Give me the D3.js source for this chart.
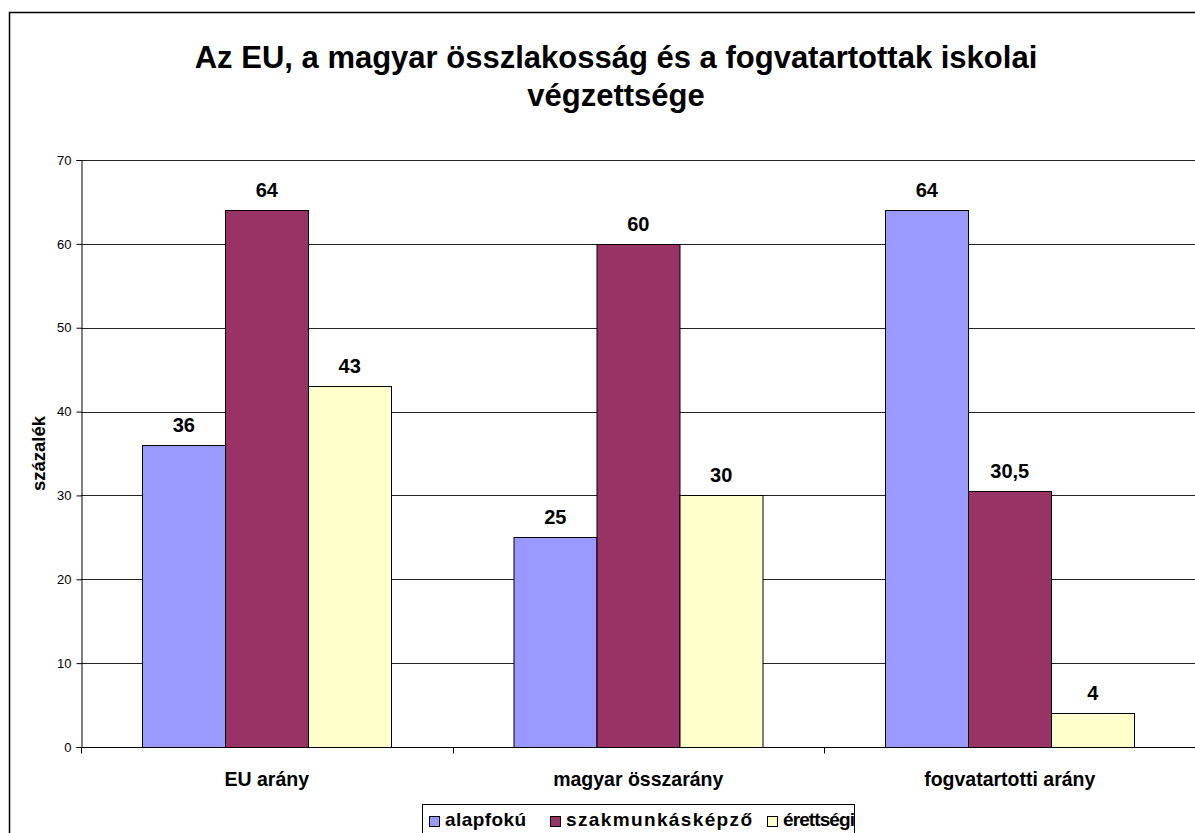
<!DOCTYPE html>
<html>
<head>
<meta charset="utf-8">
<script src="https://cdn.jsdelivr.net/npm/d3@7/dist/d3.min.js"></script>
<style>
  html, body { margin: 0; padding: 0; background: #fff; }
  svg { display: block; font-family: Arial, "Liberation Sans", sans-serif; }
</style>
</head>
<body>
<div id="chart"></div>
<script>
// chart data
const categories = ['EU arány', 'magyar összarány', 'fogvatartotti arány'];
const seriesNames = ['alapfokú', 'szakmunkásképző', 'érettségi'];
const alapfoku = [36, 25, 64];
const szakmunkaskepzo = [64, 60, 30.5];
const erettsegi = [43, 30, 4];
const yTicks = [0, 10, 20, 30, 40, 50, 60, 70];
const titleLines = ['Az EU, a magyar összlakosság és a fogvatartottak iskolai', 'végzettsége'];
const yLabel = 'százalék';

const COLORS = ['#9999FF', '#993366', '#FFFFCC'];

const width = 1195;
const height = 833;
const plot = { left: 81, right: 1195.5, top: 160, bottom: 747 };

const series = [alapfoku, szakmunkaskepzo, erettsegi];

// Hungarian decimal comma
const fmt = v => String(v).replace('.', ',');

const svg = d3.select('#chart').append('svg')
  .attr('width', width)
  .attr('height', height);

// outer frame (right/bottom edges fall outside the picture)
svg.append('path')
  .attr('d', `M9.5,${height + 5} V12.5 H${width + 5}`)
  .attr('fill', 'none')
  .attr('stroke', '#000')
  .attr('stroke-width', 1.5);

// title
const title = svg.append('text')
  .attr('text-anchor', 'middle')
  .attr('font-weight', 'bold')
  .attr('font-size', 31)
  .attr('fill', '#000');
titleLines.forEach((t, i) => {
  title.append('tspan').attr('x', 616).attr('y', 68 + i * 38).text(t);
});

const y = d3.scaleLinear().domain([0, 70]).range([plot.bottom, plot.top]);
const x0 = d3.scaleBand().domain(categories).range([plot.left, plot.right]).padding(0);
const x1 = d3.scaleBand().domain(seriesNames).range([0, x0.bandwidth()])
  .paddingInner(0).paddingOuter(0.738);

// gridlines
svg.append('g')
  .selectAll('line')
  .data(yTicks.filter(d => d > 0))
  .enter()
  .append('line')
  .attr('x1', plot.left)
  .attr('x2', width)
  .attr('y1', d => Math.round(y(d)) + 0.5)
  .attr('y2', d => Math.round(y(d)) + 0.5)
  .attr('stroke', '#222')
  .attr('stroke-width', 1);

// y axis
const yAxis = svg.append('g')
  .attr('transform', `translate(${plot.left + 0.5},0)`)
  .call(d3.axisLeft(y).tickValues(yTicks).tickSize(5).tickPadding(5).tickFormat(d3.format('d')));
yAxis.select('.domain').attr('stroke', '#000');
yAxis.selectAll('.tick line').attr('stroke', '#000');
yAxis.selectAll('text')
  .attr('font-size', 13)
  .attr('font-family', 'Arial, "Liberation Sans", sans-serif')
  .attr('fill', '#000');

// bars
const groups = svg.append('g')
  .selectAll('g')
  .data(categories)
  .enter()
  .append('g')
  .attr('transform', d => `translate(${x0(d)},0)`);

const cells = (c, ci) => seriesNames.map((s, si) => ({ s, si, v: series[si][ci] }));

groups.selectAll('rect')
  .data(cells)
  .enter()
  .append('rect')
  .attr('x', d => Math.round(x1(d.s)) + 0.5)
  .attr('y', d => Math.round(y(d.v)) + 0.5)
  .attr('width', x1.bandwidth())
  .attr('height', d => Math.round(y(0)) - Math.round(y(d.v)))
  .attr('fill', d => COLORS[d.si])
  .attr('stroke', '#000')
  .attr('stroke-width', 1);

groups.selectAll('text.val')
  .data(cells)
  .enter()
  .append('text')
  .attr('class', 'val')
  .attr('x', d => x1(d.s) + x1.bandwidth() / 2)
  .attr('y', d => y(d.v) - 13)
  .attr('text-anchor', 'middle')
  .attr('font-weight', 'bold')
  .attr('font-size', 20)
  .text(d => fmt(d.v));

// x axis
const xAxis = svg.append('g')
  .attr('transform', `translate(0,${Math.round(plot.bottom) + 0.5})`);
xAxis.append('line')
  .attr('x1', plot.left)
  .attr('x2', width)
  .attr('stroke', '#000');
xAxis.selectAll('line.tick')
  .data(d3.range(categories.length + 1))
  .enter()
  .append('line')
  .attr('class', 'tick')
  .attr('x1', i => Math.round(plot.left + i * x0.step()) + 0.5)
  .attr('x2', i => Math.round(plot.left + i * x0.step()) + 0.5)
  .attr('y1', 0)
  .attr('y2', 6)
  .attr('stroke', '#000');
xAxis.selectAll('text')
  .data(categories)
  .enter()
  .append('text')
  .attr('x', d => x0(d) + x0.bandwidth() / 2)
  .attr('y', 38)
  .attr('text-anchor', 'middle')
  .attr('font-weight', 'bold')
  .attr('font-size', 19.5)
  .text(d => d);

// y label
svg.append('text')
  .attr('transform', `translate(45,${(plot.top + plot.bottom) / 2}) rotate(-90)`)
  .attr('text-anchor', 'middle')
  .attr('font-weight', 'bold')
  .attr('font-size', 18.5)
  .text(yLabel);

// legend
const legend = svg.append('g');
legend.append('rect')
  .attr('x', 422.5)
  .attr('y', 804.5)
  .attr('width', 432)
  .attr('height', 50)
  .attr('fill', '#fff')
  .attr('stroke', '#000');
const legendX = [429, 550, 767];
const legendW = [81, 186, 72];
seriesNames.forEach((s, i) => {
  legend.append('rect')
    .attr('x', legendX[i] + 0.5)
    .attr('y', 816.5)
    .attr('width', 10)
    .attr('height', 10)
    .attr('fill', COLORS[i])
    .attr('stroke', '#000');
  legend.append('text')
    .attr('x', legendX[i] + 16)
    .attr('y', 826)
    .attr('font-weight', 'bold')
    .attr('font-size', 19)
    .attr('textLength', legendW[i])
    .attr('lengthAdjust', 'spacing')
    .text(s);
});
</script>
</body>
</html>
